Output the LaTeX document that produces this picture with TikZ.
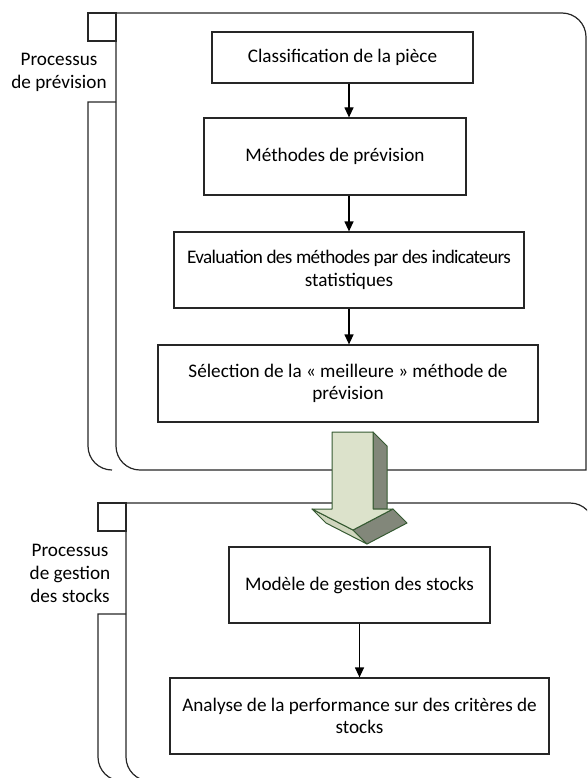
\documentclass[tikz,border=0pt]{standalone}
\usepackage{fontspec}
\setmainfont{Carlito}
\usepackage{xcolor}
\usepackage{tikz}
\usetikzlibrary{arrows.meta}

\definecolor{fleche}{HTML}{DCE2CB}
\definecolor{flechebas}{HTML}{D0D6BE}
\definecolor{flancs}{HTML}{82877A}
\definecolor{contour}{HTML}{365A32}

\begin{document}
\begin{tikzpicture}[x=1pt,y=-1pt]
\tikzstyle{every node}+=[inner sep=0pt]
\tikzstyle{etape}=[draw=black!85, line width=1.2pt, fill=white, align=center,
  font=\fontsize{19.2}{22.5}\selectfont]
\tikzstyle{lien}=[black, line width=1.2pt, -{Triangle[length=10pt,width=9pt]}]
\tikzstyle{cadre}=[black!85, line width=1.2pt]
\tikzstyle{titre}=[align=center, font=\fontsize{19.2}{23}\selectfont]
\useasboundingbox (0,0) rectangle (587,778);
\clip (0,0) rectangle (587,778);
% processus de prevision
\draw [cadre] (88,13) rectangle (116,41);
\draw [cadre] (88,13) -- (562,13) arc (-90:0:24) -- (586,470) -- (140,470) arc (90:180:24) -- (116,13);
\draw [cadre] (116,102) -- (88,102) -- (88,446) arc (180:90:24);
\draw (59,72) node [titre] {Processus\\de prévision};
% processus de gestion des stocks
\draw [cadre] (98,503) rectangle (126,531);
\draw [cadre] (98,503) -- (570,503) arc (-90:0:24) -- (594,781) -- (150,781) arc (90:180:24) -- (126,503);
\draw [cadre] (126,614) -- (98,614) -- (98,757) arc (180:90:24);
\draw (70,573) node [titre] {Processus\\de gestion\\des stocks};
% etapes
\node [etape, minimum width=261pt, minimum height=51pt] (classif) at (342.5,57.5) {Classification de la pièce};
\node [etape, minimum width=262pt, minimum height=77pt] (methodes) at (335,156.5) {Méthodes de prévision};
\node [etape, minimum width=350pt, minimum height=76pt] (evaluation) at (349,270) {{\addfontfeature{LetterSpace=-3.4}Evaluation des méthodes par des indicateurs}\\statistiques};
\node [etape, minimum width=380pt, minimum height=77pt] (selection) at (348,383.5) {Sélection de la « meilleure » méthode de\\prévision};
\node [etape, minimum width=261pt, minimum height=76pt] (modele) at (359.5,585) {Modèle de gestion des stocks};
\node [etape, minimum width=379pt, minimum height=76pt] (analyse) at (359.5,716) {Analyse de la performance sur des critères de\\stocks};
\coordinate (axe) at (349,0);
\draw [lien] (classif.south -| axe) -- (methodes.north -| axe);
\draw [lien] (methodes.south -| axe) -- (evaluation.north -| axe);
\draw [lien] (evaluation.south -| axe) -- (selection.north -| axe);
\draw [lien] (modele) -- (analyse);
% grosse fleche
\filldraw [draw=contour, fill=flancs, line width=1pt, line join=round] (373,432) -- (387,446) -- (387,509) -- (373,509) -- cycle;
\filldraw [draw=contour, fill=flechebas, line width=1pt, line join=round] (312,509) -- (353,530) -- (367,544) -- (326,523) -- cycle;
\filldraw [draw=contour, fill=flancs, line width=1pt, line join=round] (353,530) -- (393,509) -- (407,523) -- (367,544) -- cycle;
\filldraw [draw=contour, fill=fleche, line width=1pt, line join=round] (332,432) -- (373,432) -- (373,509) -- (393,509) -- (353,530) -- (312,509) -- (332,509) -- cycle;
\end{tikzpicture}
\end{document}
